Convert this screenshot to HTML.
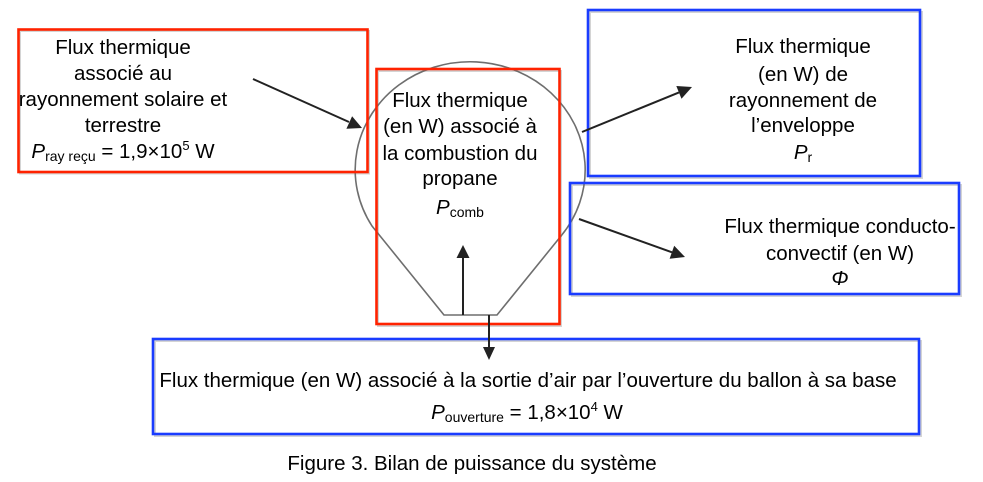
<!DOCTYPE html>
<html>
<head>
<meta charset="utf-8">
<style>
  html, body { margin:0; padding:0; background:#fff; }
  svg { display:block; }
  text { font-family: "Liberation Sans", Arial, sans-serif; font-size:20.5px; fill:#000; }
</style>
</head>
<body>
<svg width="983" height="482" viewBox="0 0 983 482" xmlns="http://www.w3.org/2000/svg">
  <!-- shadows -->
  <g fill="none" stroke="#d4d4d4" stroke-width="2">
    <rect x="20" y="31" width="349" height="142.5"/>
    <rect x="378" y="71" width="183" height="255"/>
    <rect x="590" y="12" width="332" height="166"/>
    <rect x="572" y="185" width="389" height="111"/>
    <rect x="155" y="341" width="766" height="95"/>
  </g>

  <!-- balloon outline -->
  <path d="M 444 315 L 372 226 A 115 108 0 1 1 561 236 L 497 315 Z" fill="none" stroke="#6e6e6e" stroke-width="1.6"/>

  <!-- boxes -->
  <g fill="none" stroke-width="2.6">
    <rect x="18.5" y="29.5" width="349" height="142.5" stroke="#ff2200"/>
    <rect x="376.5" y="69" width="183" height="255" stroke="#ff2200"/>
    <rect x="588" y="10" width="332" height="166" stroke="#1a3cff"/>
    <rect x="570" y="183" width="389" height="111" stroke="#1a3cff"/>
    <rect x="153" y="339" width="766" height="95" stroke="#1a3cff"/>
  </g>

  <!-- arrows -->
  <g stroke="#222" stroke-width="2" fill="#222">
    <line x1="253" y1="79" x2="349" y2="122"/>
    <polygon points="362,128 346.4,128.8 352.1,116.2" stroke="none"/>
    <line x1="582" y1="132" x2="679" y2="92.4"/>
    <polygon points="692,87 681.5,98.7 676.3,86" stroke="none"/>
    <line x1="579" y1="219" x2="672" y2="252.3"/>
    <polygon points="685,257 669.6,258.7 674.2,245.8" stroke="none"/>
    <line x1="463" y1="315" x2="463" y2="258"/>
    <polygon points="463,245 456.5,258 469.5,258" stroke="none"/>
    <line x1="489" y1="315" x2="489" y2="348"/>
    <polygon points="489,360 483,347 495,347" stroke="none"/>
  </g>

  <!-- Box 1 text -->
  <g text-anchor="middle">
    <text x="123" y="54">Flux thermique</text>
    <text x="123" y="80">associé au</text>
    <text x="123" y="106">rayonnement solaire et</text>
    <text x="123" y="132">terrestre</text>
    <text x="123" y="158"><tspan font-style="italic">P</tspan><tspan font-size="14" dy="3">ray reçu</tspan><tspan dy="-3"> = 1,9×10</tspan><tspan font-size="13" dy="-8">5</tspan><tspan dy="8"> W</tspan></text>
  </g>

  <!-- Center box text -->
  <g text-anchor="middle">
    <text x="460" y="107">Flux thermique</text>
    <text x="460" y="133">(en W) associé à</text>
    <text x="460" y="160">la combustion du</text>
    <text x="460" y="185">propane</text>
    <text x="460" y="214"><tspan font-style="italic">P</tspan><tspan font-size="14" dy="3">comb</tspan></text>
  </g>

  <!-- Blue box 1 text -->
  <g text-anchor="middle">
    <text x="803" y="53">Flux thermique</text>
    <text x="803" y="81">(en W) de</text>
    <text x="803" y="107">rayonnement de</text>
    <text x="803" y="132">l’enveloppe</text>
    <text x="803" y="159"><tspan font-style="italic">P</tspan><tspan font-size="14" dy="3">r</tspan></text>
  </g>

  <!-- Blue box 2 text -->
  <g text-anchor="middle">
    <text x="840" y="233">Flux thermique conducto-</text>
    <text x="840" y="260">convectif (en W)</text>
    <text x="840" y="285" font-style="italic">Φ</text>
  </g>

  <!-- Bottom box text -->
  <g text-anchor="middle">
    <text x="528" y="387">Flux thermique (en W) associé à la sortie d’air par l’ouverture du ballon à sa base</text>
    <text x="527" y="419"><tspan font-style="italic">P</tspan><tspan font-size="14" dy="3">ouverture</tspan><tspan dy="-3"> = 1,8×10</tspan><tspan font-size="13" dy="-8">4</tspan><tspan dy="8"> W</tspan></text>
  </g>

  <!-- Caption -->
  <text x="472" y="470" text-anchor="middle">Figure 3. Bilan de puissance du système</text>
</svg>
</body>
</html>
